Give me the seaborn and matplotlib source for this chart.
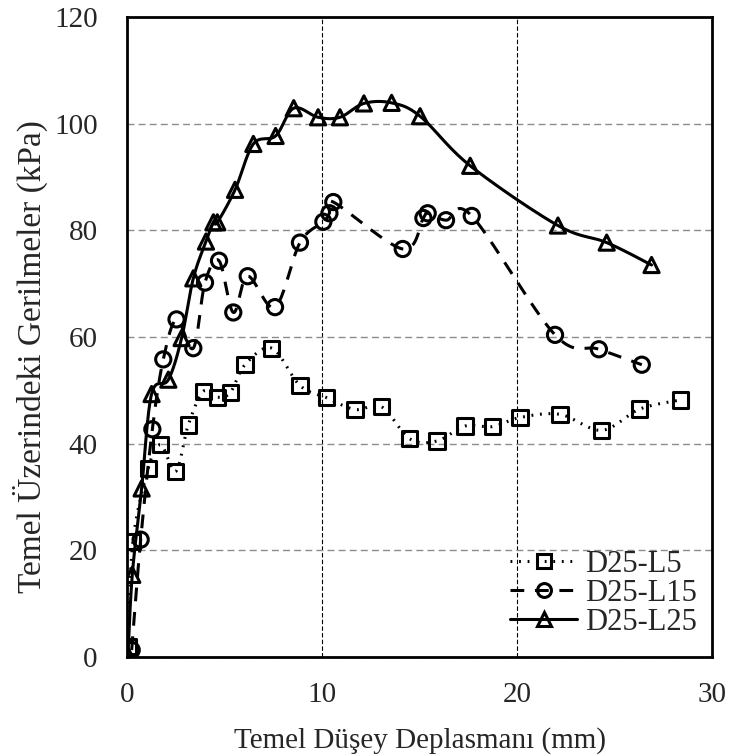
import numpy as np
import pandas as pd
import matplotlib
matplotlib.use("Agg")
import matplotlib.pyplot as plt
from matplotlib.lines import Line2D
import seaborn as sns

# data
x_l5 = [0.05, 0.3, 1.09, 1.73, 2.5, 3.14, 3.91, 4.63, 5.3, 6.05, 7.42, 8.87, 10.25,
        11.69, 13.06, 14.5, 15.9, 17.33, 18.75, 20.15, 22.2, 24.34, 26.3, 28.4]
y_l5 = [2.0, 21.6, 35.4, 39.8, 34.8, 43.5, 49.8, 48.7, 49.6, 54.8, 57.9, 50.9, 48.6,
        46.4, 46.9, 40.9, 40.5, 43.3, 43.2, 44.9, 45.5, 42.5, 46.5, 48.2]

x_l15 = [0.24, 0.7, 1.3, 1.86, 2.54, 3.4, 4.0, 4.72, 5.45, 6.19, 7.59, 8.87, 10.07,
         10.38, 10.58, 14.14, 15.2, 15.42, 16.36, 17.68, 21.95, 24.2, 26.4]
y_l15 = [1.3, 22.0, 42.7, 55.8, 63.3, 57.9, 70.2, 74.3, 64.6, 71.4, 65.6, 77.7, 81.6,
         83.2, 85.3, 76.5, 82.3, 83.2, 81.9, 82.7, 60.4, 57.7, 54.8]

x_l25 = [0.05, 0.27, 0.75, 1.26, 2.12, 2.8, 3.4, 4.05, 4.43, 4.63, 5.54, 6.48, 7.62,
         8.55, 9.8, 10.92, 12.15, 13.57, 15.03, 17.6, 22.1, 24.6, 26.9]
y_l25 = [0.3, 15.4, 31.6, 49.3, 52.0, 59.8, 71.0, 77.9, 81.5, 81.5, 87.6, 96.2, 97.7,
         102.9, 101.2, 101.2, 103.8, 103.9, 101.4, 92.1, 80.9, 77.7, 73.5]

labels = ["D25-L5", "D25-L15", "D25-L25"]
markers = ["s", "o", "^"]
styles = [(0, (0.6, 2.2)), (0, (4.5, 3.5)), "-"]


def smooth(x, y, n=20):
    # Catmull-Rom curve through the points (like Excel's smoothed line)
    p = np.column_stack([x, y]).astype(float)
    p = np.vstack([p[0], p, p[-1]])
    out = []
    t = np.linspace(0, 1, n, endpoint=False)[:, None]
    for i in range(1, len(p) - 2):
        p0, p1, p2, p3 = p[i - 1], p[i], p[i + 1], p[i + 2]
        seg = 0.5 * (2 * p1 + (-p0 + p2) * t + (2 * p0 - 5 * p1 + 4 * p2 - p3) * t ** 2
                     + (-p0 + 3 * p1 - 3 * p2 + p3) * t ** 3)
        out.append(seg)
    out.append(p[-2][None, :])
    out = np.vstack(out)
    return out[:, 0], out[:, 1]


sns.set_style("white")
plt.rcParams["font.family"] = ["Liberation Serif", "DejaVu Serif"]

fig = plt.figure(figsize=(7.35, 7.56), dpi=100)
ax = fig.add_axes([0.1728, 0.131, 0.7959, 0.8465])

series = [(x_l5, y_l5), (x_l15, y_l15), (x_l25, y_l25)]
for (xs, ys), lab, mk, ls in zip(series, labels, markers, styles):
    sx, sy = smooth(xs, ys)
    curve = pd.DataFrame({"x": sx, "y": sy})
    sns.lineplot(data=curve, x="x", y="y", sort=False, estimator=None, ax=ax,
                 color="black", lw=2.2, linestyle=ls, legend=False)
    pts = pd.DataFrame({"x": xs, "y": ys})
    sns.scatterplot(data=pts, x="x", y="y", ax=ax, marker=mk, s=120,
                    facecolor="none", edgecolor="black", linewidth=2.2,
                    legend=False, zorder=4)

ax.set_xlim(0, 30)
ax.set_ylim(0, 120)
ax.set_xticks([0, 10, 20, 30])
ax.set_yticks(range(0, 121, 20))
ax.grid(axis="y", color="#8c8c8c", linestyle=(0, (5, 3)), lw=1)
ax.grid(axis="x", color="black", linestyle=(0, (4, 2)), lw=0.8)
ax.set_axisbelow(True)
for sp in ax.spines.values():
    sp.set_color("black")
    sp.set_linewidth(2)
ax.tick_params(axis="y", direction="out", length=8, width=1, color="black",
               labelsize=21, pad=13)
ax.tick_params(axis="x", length=0, labelsize=21, pad=18)
ax.set_xlabel("Temel Düşey Deplasmanı (mm)", fontsize=21, labelpad=14)
ax.set_ylabel("Temel Üzerindeki Gerilmeler (kPa)", fontsize=24, labelpad=8)
ax.yaxis.set_label_coords(-0.135, 0.47)

handles = [Line2D([], [], color="black", lw=2.2, linestyle=ls, marker=mk,
                  markersize=10, markerfacecolor="none", markeredgewidth=2.2)
           for mk, ls in zip(markers, styles)]
ax.legend(handles, labels, loc="lower right", bbox_to_anchor=(1.0, 0.008),
          frameon=False, fontsize=22, handlelength=2.2, handletextpad=0.25,
          labelspacing=0.0, borderpad=0.2, borderaxespad=0.3)

fig.savefig("out.png", dpi=100)
